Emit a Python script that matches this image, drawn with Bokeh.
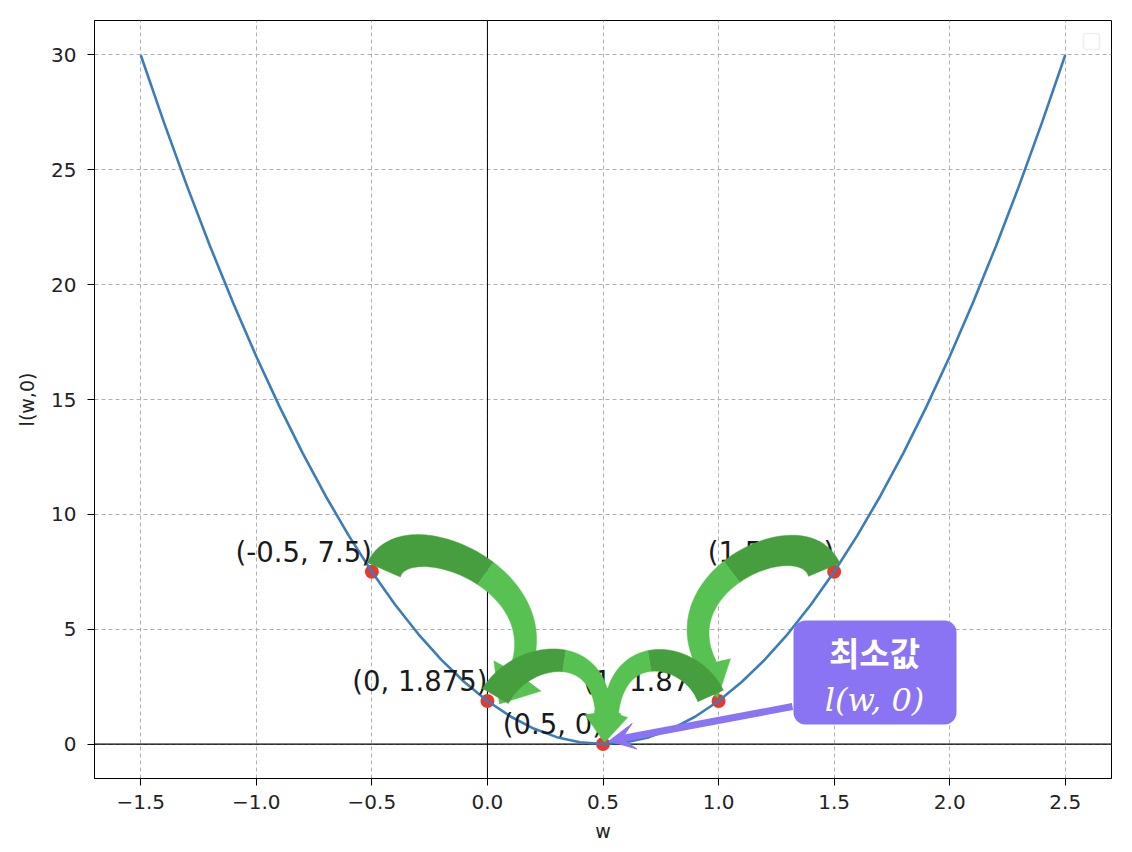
import numpy as np
from bokeh.plotting import figure
from bokeh.models import (ColumnDataSource, LabelSet, Label, Span, BoxAnnotation,
                          FixedTicker, Arrow, VeeHead, Range1d)
from bokeh.embed import file_html
from bokeh.resources import INLINE
from bokeh.core.properties import value

# ---------------- data ----------------
w_curve = [-1.5, -1.4, -1.3, -1.2, -1.1, -1.0, -0.9, -0.8, -0.7, -0.6, -0.5,
           -0.4, -0.3, -0.2, -0.1, 0.0, 0.1, 0.2, 0.3, 0.4, 0.5,
           0.6, 0.7, 0.8, 0.9, 1.0, 1.1, 1.2, 1.3, 1.4, 1.5,
           1.6, 1.7, 1.8, 1.9, 2.0, 2.1, 2.2, 2.3, 2.4, 2.5]
l_curve = [30.0, 27.075, 24.3, 21.675, 19.2, 16.875, 14.7, 12.675, 10.8, 9.075, 7.5,
           6.075, 4.8, 3.675, 2.7, 1.875, 1.2, 0.675, 0.3, 0.075, 0.0,
           0.075, 0.3, 0.675, 1.2, 1.875, 2.7, 3.675, 4.8, 6.075, 7.5,
           9.075, 10.8, 12.675, 14.7, 16.875, 19.2, 21.675, 24.3, 27.075, 30.0]

step_w = [-0.5, 0.0, 0.5, 1.0, 1.5]
step_l = [7.5, 1.875, 0.0, 1.875, 7.5]
step_labels = ["(-0.5, 7.5)", "(0, 1.875)", "(0.5, 0)", "(1, 1.875)", "(1.5, 7.5)"]

# hops drawn as curved arrows (from index, to index)
hops = [(0, 1), (4, 3), (1, 2), (3, 2)]

x_ticks = [-1.5, -1.0, -0.5, 0.0, 0.5, 1.0, 1.5, 2.0, 2.5]
x_tick_labels = ["\u22121.5", "\u22121.0", "\u22120.5", "0.0", "0.5", "1.0", "1.5", "2.0", "2.5"]
y_ticks = [0, 5, 10, 15, 20, 25, 30]
y_tick_labels = ["0", "5", "10", "15", "20", "25", "30"]

x_label = "w"
y_label = "l(w,0)"
callout_title = "최소값"
callout_formula = "l(w, 0)"

# ---------------- layout ----------------
X_RANGE = (-1.7, 2.7)
Y_RANGE = (-1.5, 31.5)
FRAME_L, FRAME_T, FRAME_W, FRAME_H = 94, 20, 1017, 758   # page pixels

def d2p(x, y):
    px = FRAME_L + (x - X_RANGE[0]) / (X_RANGE[1] - X_RANGE[0]) * FRAME_W
    py = FRAME_T + (Y_RANGE[1] - y) / (Y_RANGE[1] - Y_RANGE[0]) * FRAME_H
    return np.array([px, py], dtype=float)

def p2d(pts):
    pts = np.asarray(pts, dtype=float)
    x = X_RANGE[0] + (pts[..., 0] - FRAME_L) / FRAME_W * (X_RANGE[1] - X_RANGE[0])
    y = Y_RANGE[1] - (pts[..., 1] - FRAME_T) / FRAME_H * (Y_RANGE[1] - Y_RANGE[0])
    return x, y

p = figure(width=1124, height=848, output_backend="svg", toolbar_location=None,
           x_range=Range1d(*X_RANGE), y_range=Range1d(*Y_RANGE),
           min_border_left=94, min_border_right=13, min_border_top=20, min_border_bottom=70)
p.background_fill_color = "white"
p.border_fill_color = "white"
p.outline_line_color = "black"
p.outline_line_width = 1

def fix_key(v):
    return int(v) if float(v).is_integer() else v

p.xaxis.ticker = FixedTicker(ticks=x_ticks)
p.yaxis.ticker = FixedTicker(ticks=y_ticks)
p.xaxis.major_label_overrides = {fix_key(v): s for v, s in zip(x_ticks, x_tick_labels)}
p.yaxis.major_label_overrides = {fix_key(v): s for v, s in zip(y_ticks, y_tick_labels)}
for ax in (p.xaxis, p.yaxis):
    ax.major_label_text_font = "DejaVu Sans"
    ax.major_label_text_font_size = "20px"
    ax.major_label_text_color = "#222222"
    ax.axis_label_text_font = "DejaVu Sans"
    ax.axis_label_text_font_size = "19px"
    ax.axis_label_text_font_style = "normal"
    ax.axis_label_text_color = "#222222"
    ax.major_tick_out = 7
    ax.major_tick_in = 0
    ax.minor_tick_out = 0
    ax.minor_tick_in = 0
    ax.axis_line_color = "black"
    ax.major_tick_line_color = "black"
p.xaxis.major_label_standoff = 9
p.yaxis.major_label_standoff = 11
p.xaxis.axis_label = x_label
p.yaxis.axis_label = y_label
p.xaxis.axis_label_standoff = 8
p.yaxis.axis_label_standoff = 10

p.grid.grid_line_color = "#b0b0b0"
p.grid.grid_line_dash = "4 3"
p.grid.grid_line_width = 1

p.add_layout(Span(location=0, dimension="width", line_color="black", line_width=1.2, level="underlay"))
p.add_layout(Span(location=0, dimension="height", line_color="black", line_width=1, level="underlay"))

# points then curve on top
p.scatter(step_w, step_l, size=14, color="#e8392d", line_color=None)
p.line(w_curve, l_curve, line_color="#3b7dba", line_width=2.6)

# point labels (right-aligned, just above the point)
lab_src = ColumnDataSource(dict(x=step_w, y=step_l, t=step_labels))
p.add_layout(LabelSet(x="x", y="y", text="t", source=lab_src, text_align="right",
                      text_baseline="bottom", y_offset=4, text_font=value("DejaVu Sans"),
                      text_font_size=value("27.5px"), text_color="#1a1a1a"))

# ---------------- curved green arrows ----------------
DARK_GREEN = "#469e3f"
LIGHT_GREEN = "#57c151"
# per hop: offsets (P0 from start, P1 from start, P2 from end, P3 from end, tip from end), widths
arrow_styles = [
    dict(offs=[(12, -2), (35, -55), (75, -120), (30, -25), (12, 3)], w0=36, w1=20, wh=56),
    dict(offs=[(-10, -2), (-32, -55), (-58, -120), (-11, -35), (-1, -3)], w0=34, w1=20, wh=48),
    dict(offs=[(8, -5), (34, -50), (-2, -104), (0, -30), (1, -2)], w0=30, w1=15, wh=36),
    dict(offs=[(-8, -5), (-28, -50), (13, -104), (8, -30), (2, -2)], w0=28, w1=15, wh=34),
]

def curved_arrow(S, E, offs, w0, w1, wh, split=0.55):
    P0 = S + np.array(offs[0]); P1 = S + np.array(offs[1])
    P2 = E + np.array(offs[2]); P3 = E + np.array(offs[3]); T = E + np.array(offs[4])
    t = np.linspace(0, 1, 80)
    a, b, c, d = (1 - t) ** 3, 3 * (1 - t) ** 2 * t, 3 * (1 - t) * t ** 2, t ** 3
    B = a[:, None] * P0 + b[:, None] * P1 + c[:, None] * P2 + d[:, None] * P3
    D = (3 * (1 - t) ** 2)[:, None] * (P1 - P0) + (6 * (1 - t) * t)[:, None] * (P2 - P1) \
        + (3 * t ** 2)[:, None] * (P3 - P2)
    D = D / np.linalg.norm(D, axis=1)[:, None]
    N = np.stack([-D[:, 1], D[:, 0]], axis=1)
    W = (w0 + (w1 - w0) * t)[:, None] / 2
    L = B + N * W
    R = B - N * W
    k = int(split * (len(t) - 1))
    dark = np.concatenate([L[:k + 1], R[:k + 1][::-1]])
    light = np.concatenate([L[k:], R[k:][::-1]])
    dT = (T - P3) / np.linalg.norm(T - P3)
    nT = np.array([-dT[1], dT[0]])
    head = np.array([P3 + nT * wh / 2, T, P3 - nT * wh / 2, P3 - dT * 2])
    return dark, light, head

for (i0, i1), st in zip(hops, arrow_styles):
    S = d2p(step_w[i0], step_l[i0])
    E = d2p(step_w[i1], step_l[i1])
    dark, light, head = curved_arrow(S, E, st["offs"], st["w0"], st["w1"], st["wh"])
    for poly, col in ((dark, DARK_GREEN), (light, LIGHT_GREEN), (head, LIGHT_GREEN)):
        xs, ys = p2d(poly)
        r = p.patch(list(xs), list(ys), fill_color=col, line_color=col, line_width=0.5)
        r.level = "overlay"

# ---------------- purple callout ----------------
PURPLE = "#8a74f3"
bx0, by0 = p2d(np.array([793, 620]))
bx1, by1 = p2d(np.array([956, 724]))
p.add_layout(BoxAnnotation(left=float(bx0), right=float(bx1), top=float(by0), bottom=float(by1),
                           fill_color=PURPLE, fill_alpha=1.0, line_color=None, border_radius=12))
tx, ty1 = p2d(np.array([874, 651]))
_, ty2 = p2d(np.array([873, 699]))
p.add_layout(Label(x=float(tx), y=float(ty1), text=callout_title, text_align="center",
                   text_baseline="middle", text_font="Noto Sans CJK KR", text_font_style="bold",
                   text_font_size="33px", text_color="white"))
p.add_layout(Label(x=float(tx), y=float(ty2), text=callout_formula, text_align="center",
                   text_baseline="middle", text_font="DejaVu Serif", text_font_style="italic",
                   text_font_size="32px", text_color="white"))

ax0, ay0 = p2d(np.array([792, 706]))
min_i = int(np.argmin(step_l))
tip = d2p(step_w[min_i], step_l[min_i]) + np.array([6, -3])
ax1, ay1 = p2d(tip)
purple_arrow = Arrow(end=VeeHead(size=26, fill_color=PURPLE, line_color=PURPLE),
                     x_start=float(ax0), y_start=float(ay0), x_end=float(ax1), y_end=float(ay1),
                     line_color=PURPLE, line_width=7)
purple_arrow.level = "overlay"
p.add_layout(purple_arrow)

# empty legend box (top right)
lx0, ly0 = p2d(np.array([1083, 33]))
lx1, ly1 = p2d(np.array([1099, 49]))
p.add_layout(BoxAnnotation(left=float(lx0), right=float(lx1), top=float(ly0), bottom=float(ly1),
                           fill_color="white", fill_alpha=1.0, line_color="#cccccc",
                           line_width=1.5, border_radius=3))

open("out.html", "w").write(file_html(p, INLINE))
